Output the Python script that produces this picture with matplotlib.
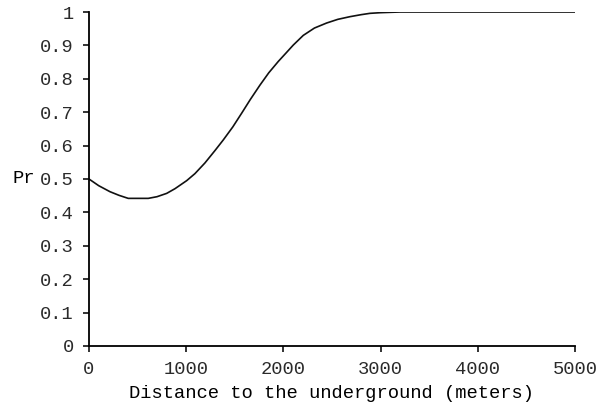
import matplotlib.pyplot as plt

distance = [0, 100, 216, 310, 404, 610, 700, 800, 885, 1005, 1090, 1193, 1296, 1382,
            1480, 1571, 1660, 1759, 1850, 1948, 2030, 2102, 2205, 2320, 2445, 2560,
            2685, 2800, 2891, 3000, 3097, 3200, 4000, 5000]
pr = [0.5, 0.48, 0.462, 0.451, 0.442, 0.442, 0.447, 0.457, 0.471, 0.495, 0.516,
      0.548, 0.585, 0.617, 0.656, 0.697, 0.738, 0.781, 0.818, 0.852, 0.878, 0.901,
      0.930, 0.952, 0.967, 0.978, 0.986, 0.992, 0.996, 0.998, 0.999, 1.0, 1.0, 1.0]

x_ticks = [0, 1000, 2000, 3000, 4000, 5000]
y_ticks = [0, 0.1, 0.2, 0.3, 0.4, 0.5, 0.6, 0.7, 0.8, 0.9, 1]
y_tick_labels = ["0", "0.1", "0.2", "0.3", "0.4", "0.5", "0.6", "0.7", "0.8", "0.9", "1"]

plt.rcParams["font.family"] = ["Liberation Mono", "DejaVu Sans Mono"]
plt.rcParams["font.size"] = 13.5
plt.rcParams["text.color"] = "#2a2a2a"
plt.rcParams["xtick.labelcolor"] = "#2a2a2a"
plt.rcParams["ytick.labelcolor"] = "#2a2a2a"

fig = plt.figure(figsize=(6.02, 4.07), dpi=100)
ax = fig.add_axes([0.1478, 0.1499, 0.8072, 0.8206])

ax.plot(distance, pr, color="#111111", linewidth=1.2)

ax.set_xlim(0, 5000)
ax.set_ylim(0, 1)
ax.set_xticks(x_ticks)
ax.set_yticks(y_ticks)
ax.set_yticklabels(y_tick_labels)
ax.spines["top"].set_visible(False)
ax.spines["right"].set_visible(False)
for side in ("left", "bottom"):
    ax.spines[side].set_linewidth(1.3)
ax.tick_params(direction="out", length=4, width=1.2, color="#111111")
ax.tick_params(axis="y", pad=7)
ax.tick_params(axis="x", pad=7)

ax.set_xlabel("Distance to the underground (meters)", labelpad=5)
ax.set_ylabel("Pr", rotation=0, labelpad=12, va="center")

fig.savefig("out.png", dpi=100)
